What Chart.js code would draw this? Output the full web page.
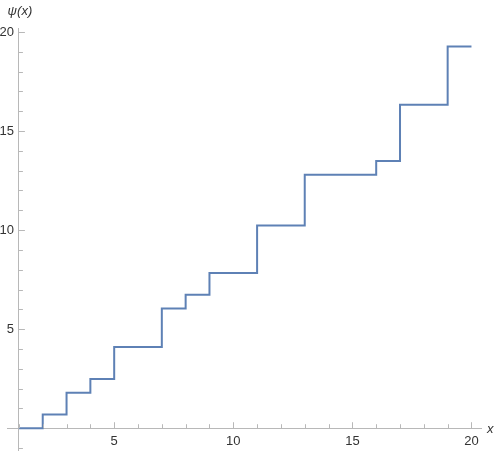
<!DOCTYPE html>
<html>
<head>
<meta charset="utf-8">
<script src="https://cdn.jsdelivr.net/npm/chart.js@4"></script>
<style>
  html, body { margin: 0; padding: 0; background: #fff; }
  #wrap { width: 500px; height: 453px; }
</style>
</head>
<body>
<div id="wrap"><canvas id="psiChart"></canvas></div>
<script>
// step positions (x where psi jumps) and the value held from there on
const stepX = [1, 2, 3, 4, 5, 7, 8, 9, 11, 13, 16, 17, 19, 20];
const psiValues = [0, 0.693, 1.792, 2.485, 4.094, 6.040, 6.733, 7.832, 10.230, 12.795, 13.488, 16.321, 19.265, 19.265];
const xTickLabels = [5, 10, 15, 20];
const yTickLabels = [5, 10, 15, 20];

const axisColor = '#b8b8b8';
const textColor = '#333';
const labelFont = '13px "Liberation Sans", Arial, sans-serif';

// inward minor/major ticks, tick labels and the italic axis labels
const axisDecor = {
    id: 'axisDecor',
    afterDraw(chart) {
        const ctx = chart.ctx;
        const xs = chart.scales.x, ys = chart.scales.y;
        const x0 = xs.getPixelForValue(1);
        const y0 = ys.getPixelForValue(0);
        ctx.save();
        ctx.strokeStyle = axisColor;
        ctx.lineWidth = 1;
        ctx.beginPath();
        for (let v = 1; v <= 20; v++) {
            const px = Math.round(xs.getPixelForValue(v)) + 0.5;
            const len = v % 5 === 0 ? 6 : 4;
            ctx.moveTo(px, y0);
            ctx.lineTo(px, y0 - len);
        }
        for (let v = -1; v <= 20; v++) {
            if (v === 0) continue;
            const py = Math.round(ys.getPixelForValue(v)) + 0.5;
            const len = v % 5 === 0 ? 6 : 4;
            ctx.moveTo(x0, py);
            ctx.lineTo(x0 + len, py);
        }
        ctx.stroke();

        ctx.fillStyle = textColor;
        ctx.font = labelFont;
        ctx.textBaseline = 'middle';
        ctx.textAlign = 'center';
        xTickLabels.forEach(v => ctx.fillText(String(v), xs.getPixelForValue(v), y0 + 13));
        ctx.textAlign = 'right';
        yTickLabels.forEach(v => ctx.fillText(String(v), x0 - 5, ys.getPixelForValue(v)));

        ctx.font = 'italic ' + labelFont;
        ctx.textAlign = 'center';
        ctx.fillText('\u03c8(x)', x0 + 1, 11);
        ctx.textAlign = 'left';
        ctx.fillText('x', chart.chartArea.right + 6, y0 + 1);
        ctx.restore();
    }
};

new Chart(document.getElementById('psiChart'), {
    type: 'line',
    data: {
        datasets: [{
            data: stepX.map((x, i) => ({ x: x, y: psiValues[i] })),
            stepped: 'before',
            borderColor: '#5e81b5',
            borderWidth: 2,
            pointRadius: 0,
            fill: false
        }]
    },
    options: {
        responsive: true,
        maintainAspectRatio: false,
        animation: false,
        layout: { padding: { left: 7, right: 19, top: 28, bottom: 3 } },
        plugins: { legend: { display: false }, tooltip: { enabled: false } },
        scales: {
            x: {
                type: 'linear',
                position: { y: 0 },
                min: 0.5,
                max: 20.4,
                grid: { display: false },
                border: { color: axisColor, width: 1 },
                ticks: { display: false }
            },
            y: {
                type: 'linear',
                position: { x: 1 },
                min: -1.1,
                max: 20.2,
                grid: { display: false },
                border: { color: axisColor, width: 1 },
                ticks: { display: false }
            }
        }
    },
    plugins: [axisDecor]
});
</script>
</body>
</html>
